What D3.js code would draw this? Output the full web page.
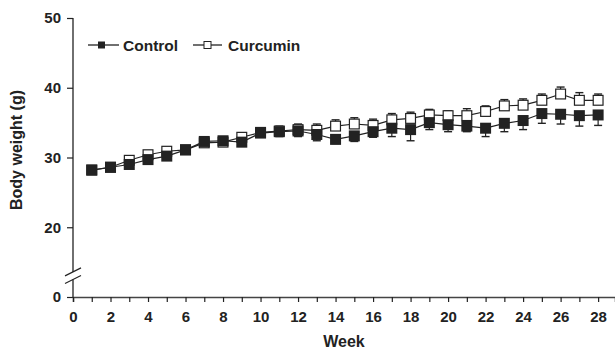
<!DOCTYPE html>
<html><head><meta charset="utf-8">
<script src="https://cdn.jsdelivr.net/npm/d3@7/dist/d3.min.js"></script>
<style>body{margin:0;background:#fff}svg{display:block}text{font-family:"Liberation Sans",Arial,sans-serif;font-weight:bold;fill:#222}</style>
</head><body><svg id="c" width="615" height="350"></svg>
<script>
const weeks = d3.range(1, 29);
const controlMean = [28.2,28.6,29.0,29.7,30.2,31.1,32.3,32.4,32.2,33.5,33.7,33.8,33.3,32.6,33.1,33.7,34.2,34.0,35.0,34.7,34.5,34.2,34.9,35.3,36.3,36.2,36.0,36.1];
const controlSE   = [0.4,0.4,0.5,0.5,0.5,0.5,0.5,0.5,0.6,0.6,0.7,0.8,0.9,0.6,0.8,0.8,1.2,1.6,1.0,1.0,0.8,1.2,1.2,1.3,1.4,1.4,1.5,1.5];
const curcMean    = [28.2,28.6,29.6,30.4,30.9,31.1,32.1,32.2,32.9,33.6,33.8,34.0,33.9,34.5,34.8,34.6,35.4,35.6,36.1,36.0,36.0,36.6,37.4,37.5,38.2,39.1,38.2,38.2];
const curcSE      = [0.4,0.4,0.5,0.5,0.5,0.5,0.5,0.5,0.6,0.6,0.7,0.8,0.9,0.9,0.9,0.9,0.9,0.9,0.8,0.7,1.0,0.8,0.9,0.9,0.9,1.0,1.1,0.9];
const yTicks = [20,30,40,50];
const xTickLabels = d3.range(0, 29, 2);

const svg = d3.select("#c");
const x = d3.scaleLinear().domain([0, 28.9]).range([73, 615]);
// broken axis: value 10 on the scale is displayed as "0"
const y = d3.scaleLinear().domain([10, 50]).range([297, 18]);
const ink = "#222";

// y axis
const yAx = d3.axisLeft(y).tickValues([10].concat(yTicks)).tickSize(6).tickPadding(6)
  .tickFormat(d => d === 10 ? "0" : d);
const gy = svg.append("g").attr("transform", "translate(73,0)").call(yAx);
gy.select(".domain").remove();
gy.selectAll("line").attr("stroke", ink).attr("stroke-width", 1.2);
gy.selectAll("text").style("font-size", "15px").attr("fill", ink);
const yb1 = y(13.6), yb2 = y(12.5);
svg.append("line").attr("x1",73).attr("x2",73).attr("y1",y(50)).attr("y2",yb1).attr("stroke",ink).attr("stroke-width",1.3);
svg.append("line").attr("x1",73).attr("x2",73).attr("y1",yb2).attr("y2",y(10)).attr("stroke",ink).attr("stroke-width",1.3);
[yb1, yb2].forEach(v => svg.append("line").attr("x1",65).attr("x2",81).attr("y1",v+4).attr("y2",v-4).attr("stroke",ink).attr("stroke-width",1.2));

// x axis
const xAx = d3.axisBottom(x).tickValues(d3.range(0, 29)).tickSize(5).tickPadding(9)
  .tickFormat(d => xTickLabels.includes(d) ? d : "");
const gx = svg.append("g").attr("transform", `translate(0,${y(10)})`).call(xAx);
gx.select(".domain").attr("stroke", "#444").attr("stroke-width", 1.5);
gx.selectAll("line").attr("stroke", ink).attr("stroke-width", 1.2);
gx.selectAll("text").style("font-size", "15px").attr("fill", ink);

// axis titles
svg.append("text").attr("x", 344).attr("y", 347).attr("text-anchor","middle").style("font-size","16px").text("Week");
svg.append("text").attr("transform","translate(22,150) rotate(-90)").attr("text-anchor","middle").style("font-size","16px").text("Body weight (g)");

const line = d3.line().x((d,i) => x(weeks[i])).y(d => y(d));
const S = 11;

// Curcumin (drawn first, below control)
svg.append("path").attr("d", line(curcMean)).attr("fill","none").attr("stroke", ink).attr("stroke-width",1.2);
const gc = svg.append("g");
weeks.forEach((w,i) => {
  const cx = x(w), cy = y(curcMean[i]), top = y(curcMean[i] + curcSE[i]);
  gc.append("line").attr("x1",cx).attr("x2",cx).attr("y1",cy).attr("y2",top).attr("stroke",ink).attr("stroke-width",1.2);
  gc.append("line").attr("x1",cx-4).attr("x2",cx+4).attr("y1",top).attr("y2",top).attr("stroke",ink).attr("stroke-width",1.4);
  gc.append("rect").attr("x",cx-S/2+0.6).attr("y",cy-S/2+0.6).attr("width",S-1.2).attr("height",S-1.2).attr("fill","#fff").attr("stroke",ink).attr("stroke-width",1.2);
});

// Control
svg.append("path").attr("d", line(controlMean)).attr("fill","none").attr("stroke", ink).attr("stroke-width",1.2);
const gk = svg.append("g");
weeks.forEach((w,i) => {
  const cx = x(w), cy = y(controlMean[i]), bot = y(controlMean[i] - controlSE[i]);
  gk.append("line").attr("x1",cx).attr("x2",cx).attr("y1",cy).attr("y2",bot).attr("stroke",ink).attr("stroke-width",1.2);
  gk.append("line").attr("x1",cx-4).attr("x2",cx+4).attr("y1",bot).attr("y2",bot).attr("stroke",ink).attr("stroke-width",1.4);
  gk.append("rect").attr("x",cx-S/2).attr("y",cy-S/2).attr("width",S).attr("height",S).attr("fill","#222");
});

// legend
const lg = svg.append("g");
lg.append("line").attr("x1",88).attr("x2",119).attr("y1",45).attr("y2",45).attr("stroke",ink).attr("stroke-width",1.3);
lg.append("rect").attr("x",98).attr("y",41.5).attr("width",7).attr("height",7).attr("fill","#222");
lg.append("text").attr("x",123).attr("y",50.5).style("font-size","15.5px").text("Control");
lg.append("line").attr("x1",193).attr("x2",222).attr("y1",45).attr("y2",45).attr("stroke",ink).attr("stroke-width",1.3);
lg.append("rect").attr("x",204).attr("y",41.5).attr("width",7).attr("height",7).attr("fill","#fff").attr("stroke",ink).attr("stroke-width",1);
lg.append("text").attr("x",228).attr("y",50.5).style("font-size","15.5px").text("Curcumin");
</script></body></html>
